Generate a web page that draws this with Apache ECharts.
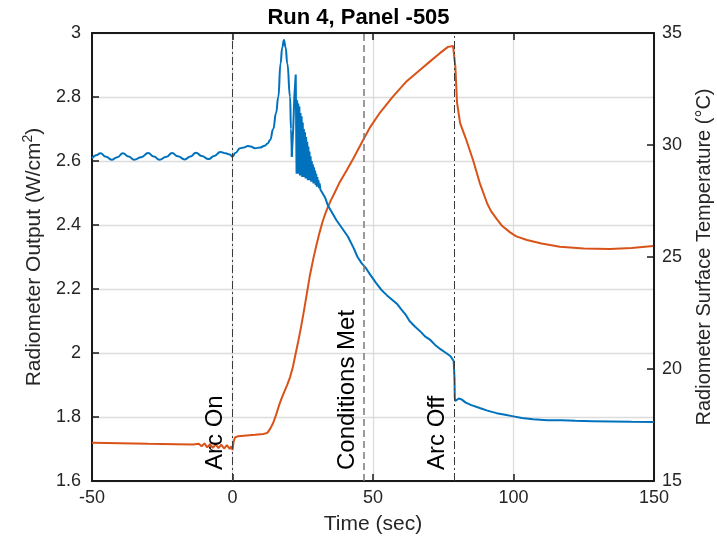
<!DOCTYPE html>
<html>
<head>
<meta charset="utf-8">
<script src="https://cdn.jsdelivr.net/npm/echarts@6/dist/echarts.min.js"></script>
<style>html,body{margin:0;padding:0;background:#fff;}#chart{width:717px;height:542px;}</style>
</head>
<body>
<div id="chart"></div>
<script>
// ---- data ----
const titleText = 'Run 4, Panel -505';
const xTicks = [-50, 0, 50, 100, 150];
const leftTicks = [1.6, 1.8, 2, 2.2, 2.4, 2.6, 2.8, 3];
const rightTicks = [15, 20, 25, 30, 35];

const radTime = [-50,-48.5,-47,-45,-43,-41,-39,-37,-35,-32.5,-30,-28,-26,-23.5,-21.5,-19.5,-17,-15,-13,-11,-8.5,-6.5,-4.3,-2.5,-1,0,1,2.7,4,5.5,6.5,8,9.8,11.5,12.5,13.4,14.5,15.5,16.3,17.1,17.7,18.3,18.9,19.5,20.5,20.8,21.1,21.6,22.0,22.5,
  22.8,23.0,23.2,23.4,23.6,23.8,24.0,24.2,24.4,24.6,24.8,25.0,25.2,25.4,25.6,25.8,26.0,26.2,26.4,26.6,26.8,27.0,27.2,27.4,27.6,27.8,28.0,28.2,28.4,28.6,28.8,29.0,29.2,29.4,29.6,29.8,30.0,30.2,30.4,30.6,30.8,31.0,31.3,31.6,32.0,
  33,34,35,37,39,41,43,44.5,46,47.5,49,51,53,55,57,58.7,60,61.6,63,65,67,68.5,70.5,72,74,76,77.6,78.7,78.9,79.0,79.1,79.3,79.8,80.5,81.5,83,85,88,90.7,94,97,100,103,107,112,117,122,128,135,142,150];
const radOutput = [2.608,2.618,2.624,2.613,2.604,2.612,2.624,2.614,2.604,2.612,2.625,2.614,2.604,2.613,2.625,2.615,2.605,2.614,2.626,2.616,2.606,2.616,2.628,2.624,2.62,2.614,2.625,2.64,2.642,2.647,2.645,2.64,2.642,2.648,2.655,2.666,2.70,2.75,2.80,2.905,2.955,2.978,2.955,2.905,2.80,2.70,2.613,2.70,2.80,2.87,
  2.56,2.79,2.56,2.78,2.56,2.77,2.555,2.75,2.555,2.74,2.55,2.72,2.55,2.70,2.55,2.69,2.545,2.675,2.545,2.66,2.54,2.645,2.54,2.63,2.54,2.615,2.535,2.60,2.535,2.59,2.53,2.58,2.53,2.57,2.525,2.56,2.52,2.55,2.52,2.54,2.515,2.53,2.51,2.515,2.50,
  2.485,2.46,2.445,2.415,2.39,2.365,2.33,2.30,2.28,2.265,2.245,2.22,2.197,2.18,2.165,2.152,2.137,2.12,2.10,2.082,2.066,2.052,2.04,2.026,2.012,2.00,1.99,1.975,1.97,1.92,1.86,1.85,1.848,1.858,1.855,1.845,1.837,1.828,1.82,1.812,1.807,1.802,1.797,1.793,1.79,1.79,1.788,1.787,1.786,1.785,1.784];

const tempTime = [-50,-40,-30,-20,-14,-12,-11,-10,-9,-8,-7,-6,-5,-4,-3,-2,-1,-0.4,0,0.4,0.9,2,5,8,11,12.4,13.5,14.5,15.5,16.5,17.5,18.5,19.5,20.5,21.5,22.5,23.5,24.5,25.5,26.5,27.5,28.8,30,31,32,33,34,35,36,38,40.7,43,46.4,49,52.5,57,62,66.7,70,73.8,76.7,78.5,78.9,79.3,79.9,81,83,85.6,88,90.6,92,94,96,98.8,101,104.8,110,116.5,125,134.3,142,149.7];
const tempValue = [16.71,16.69,16.66,16.64,16.63,16.66,16.55,16.68,16.5,16.65,16.48,16.63,16.47,16.62,16.45,16.6,16.43,16.55,16.38,16.75,16.95,17.0,17.03,17.06,17.1,17.15,17.35,17.6,17.95,18.35,18.7,19.0,19.3,19.64,20.1,20.7,21.3,21.95,22.65,23.4,24.15,24.95,25.6,26.1,26.55,26.93,27.25,27.53,27.78,28.3,28.88,29.4,30.2,30.8,31.45,32.15,32.85,33.35,33.7,34.1,34.38,34.42,34.4,33.5,31.9,30.98,30.3,29.33,28.3,27.4,27.05,26.7,26.38,26.1,25.92,25.76,25.6,25.46,25.38,25.36,25.4,25.49];

const eventTimes = [0, 46.8, 78.9];
const eventLabels = ['Arc On', 'Conditions Met', 'Arc Off'];
const eventDash = [[8, 3, 2, 3], [7, 4], [8, 3, 2, 3]];

// ---- chart ----
const FONT = "'Liberation Sans', Arial, Helvetica, sans-serif";
const TXT = '#262626';
const chart = echarts.init(document.getElementById('chart'), null, {renderer: 'canvas'});

const radData = radTime.map((t, i) => [t, radOutput[i]]);
const tempData = tempTime.map((t, i) => [t, tempValue[i]]);
// smooth the slow wiggle/peak part, keep the fast oscillation sharp
const splitIdx = radTime.findIndex(t => t >= 21.1);
const radSmooth = radData.slice(0, splitIdx + 1);
const radSharp = radData.slice(splitIdx);

const markData = eventTimes.map((t, i) => ({
  xAxis: t,
  lineStyle: {
    type: eventDash[i],
    color: i === 1 ? '#7a7a7a' : '#3a3a3a',
    width: i === 1 ? 1.5 : 1
  },
  label: {formatter: eventLabels[i]}
}));

const axisLineStyle = {color: '#1a1a1a', width: 2};
const tickStyle = {show: true, inside: true, length: 7, lineStyle: {color: '#1a1a1a', width: 1.5}};

chart.setOption({
  animation: false,
  backgroundColor: '#fff',
  textStyle: {fontFamily: FONT},
  title: {
    text: titleText,
    left: 'center',
    top: 2,
    textStyle: {fontFamily: FONT, fontWeight: 'bold', fontSize: 22, color: '#000'}
  },
  grid: {left: 92, right: 63, top: 33, bottom: 61, show: false, containLabel: false, outerBoundsMode: 'none'},
  xAxis: [{
    type: 'value', min: -50, max: 150, interval: 50,
    name: 'Time (sec)', nameLocation: 'middle', nameGap: 33,
    nameTextStyle: {fontFamily: FONT, fontSize: 21, color: TXT},
    axisLine: {show: true, onZero: false, lineStyle: axisLineStyle},
    axisTick: tickStyle,
    axisLabel: {fontFamily: FONT, fontSize: 18, color: TXT, margin: 8},
    splitLine: {show: true, lineStyle: {color: '#dcdcdc', width: 1.3}}
  }, {
    type: 'value', min: -50, max: 150, interval: 50, position: 'top',
    axisLine: {show: true, onZero: false, lineStyle: axisLineStyle},
    axisTick: tickStyle,
    axisLabel: {show: false},
    splitLine: {show: false}
  }],
  yAxis: [{
    type: 'value', min: 1.6, max: 3, interval: 0.2, position: 'left',
    name: '{a|Radiometer Output (W/cm}{s|2}{a|)}', nameLocation: 'middle', nameGap: 40,
    nameTextStyle: {fontFamily: FONT, fontSize: 21, color: TXT,
      rich: {
        a: {fontFamily: FONT, fontSize: 21, color: TXT, lineHeight: 26},
        s: {fontFamily: FONT, fontSize: 14, color: TXT, lineHeight: 14, verticalAlign: 'top'}
      }},
    axisLine: {show: true, onZero: false, lineStyle: axisLineStyle},
    axisTick: tickStyle,
    axisLabel: {fontFamily: FONT, fontSize: 18, color: TXT, margin: 11,
      formatter: v => String(Math.round(v * 10) / 10)},
    splitLine: {show: true, lineStyle: {color: '#dcdcdc', width: 1.3}}
  }, {
    type: 'value', min: 15, max: 35, interval: 5, position: 'right',
    name: 'Radiometer Surface Temperature (°C)', nameLocation: 'middle', nameGap: 40,
    nameTextStyle: {fontFamily: FONT, fontSize: 20, color: TXT},
    axisLine: {show: true, onZero: false, lineStyle: axisLineStyle},
    axisTick: tickStyle,
    axisLabel: {fontFamily: FONT, fontSize: 18, color: TXT, margin: 8},
    splitLine: {show: false}
  }],
  series: [{
    name: 'Temperature', type: 'line', xAxisIndex: 0, yAxisIndex: 1,
    data: tempData, showSymbol: false, symbol: 'none',
    lineStyle: {color: '#D95319', width: 2},
    z: 3,
    markLine: {
      silent: true, symbol: ['none', 'none'], animation: false,
      label: {show: true, position: 'insideStartTop', distance: [11, 5],
        fontFamily: FONT, fontSize: 24, color: '#000'},
      data: markData
    }
  }, {
    name: 'Radiometer', type: 'line', xAxisIndex: 0, yAxisIndex: 0,
    data: radSmooth, showSymbol: false, symbol: 'none',
    smooth: 0.5, smoothMonotone: 'x',
    lineStyle: {color: '#0072BD', width: 2},
    z: 4
  }, {
    name: 'Radiometer ', type: 'line', xAxisIndex: 0, yAxisIndex: 0,
    data: radSharp, showSymbol: false, symbol: 'none',
    lineStyle: {color: '#0072BD', width: 2},
    z: 4
  }]
});
</script>
</body>
</html>
